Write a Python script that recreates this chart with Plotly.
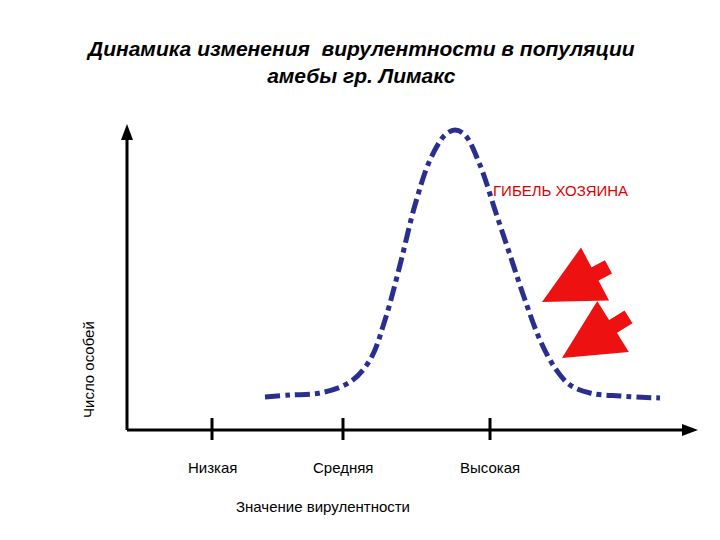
import plotly.graph_objects as go

curve_x = [265,290,320,350,370,385,400,415,430,445,455,465,480,495,510,525,540,555,570,590,620,660]
curve_y = [397,395,393,382,360,320,265,205,160,135,130,135,165,210,255,300,340,368,385,393,396,398]
tick_x = [212,343,490]
tick_labels = ["Низкая","Средняя","Высокая"]

fig = go.Figure()
fig.add_trace(go.Scatter(x=curve_x, y=curve_y, mode="lines", line=dict(color="#2a2f8f", width=5, dash="dashdot", shape="spline"), hoverinfo="skip"))

F = "Liberation Sans, Arial"
ann = [
    dict(x=360, y=62, text="<b><i>Динамика изменения  вирулентности в популяции<br>амебы гр. Лимакс</i></b>", showarrow=False, font=dict(family=F, size=21, color="black")),
    dict(x=560, y=190, text="ГИБЕЛЬ ХОЗЯИНА", showarrow=False, font=dict(family=F, size=15, color="#e00000")),
    dict(x=88, y=370, text="Число особей", textangle=-90, showarrow=False, font=dict(family=F, size=15, color="black")),
    dict(x=323, y=506, text="Значение вирулентности", showarrow=False, font=dict(family=F, size=15, color="black")),
]
for tx, tl in zip(tick_x, tick_labels):
    ann.append(dict(x=tx, y=467, text=tl, showarrow=False, font=dict(family=F, size=15, color="black")))
for (hx, hy, tx2, ty2) in [(542, 302, 610, 266), (562, 358, 630, 316)]:
    ann.append(dict(x=hx, y=hy, ax=tx2, ay=ty2, axref="x", ayref="y", text="", showarrow=True, arrowhead=2, arrowsize=0.8, arrowwidth=15, arrowcolor="#ee1111"))
fig.update_layout(annotations=ann)

shapes = [
    dict(type="line", x0=127, y0=430, x1=127, y1=135, line=dict(color="black", width=3)),
    dict(type="line", x0=127, y0=430, x1=690, y1=430, line=dict(color="black", width=3)),
    dict(type="path", path="M 121 140 L 127 124 L 133 140 Z", fillcolor="black", line=dict(width=0)),
    dict(type="path", path="M 682 424 L 698 430 L 682 436 Z", fillcolor="black", line=dict(width=0)),
]
for tx in tick_x:
    shapes.append(dict(type="line", x0=tx, y0=418, x1=tx, y1=440, line=dict(color="black", width=3)))
fig.update_layout(shapes=shapes)

fig.update_layout(width=720, height=540, margin=dict(l=0, r=0, t=0, b=0), showlegend=False,
                  paper_bgcolor="white", plot_bgcolor="white",
                  xaxis=dict(range=[8,728], visible=False), yaxis=dict(range=[548,8], visible=False))
fig.write_html("out.html")
